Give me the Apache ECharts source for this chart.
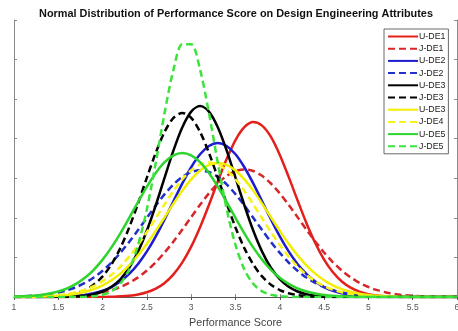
<!DOCTYPE html>
<html><head><meta charset="utf-8">
<script src="https://cdn.jsdelivr.net/npm/echarts@6/dist/echarts.min.js"></script>
<style>html,body{margin:0;padding:0;background:#fff}#c{width:458px;height:331px}</style>
</head><body><div id="c"></div>
<script>
// x positions (Performance Score), step 0.1 from 1.0 to 6.0
var xs = [];
for (var i = 0; i <= 50; i++) xs.push(+(1 + i * 0.1).toFixed(1));

var xTicks = [1, 1.5, 2, 2.5, 3, 3.5, 4, 4.5, 5, 5.5, 6];
var legendLabels = ['U-DE1','J-DE1','U-DE2','J-DE2','U-DE3','J-DE3','U-DE3','J-DE4','U-DE5','J-DE5'];

var uDE1 = [0,0,0,0,0,0,0,0,0,0,0,
 0.0015,0.0032,0.0065,0.0128,0.0238,0.0422,0.0712,0.1144,0.175,0.2546,
 0.3527,0.465,0.584,0.697,0.793,0.858,0.884,0.866,0.809,0.718,
 0.607,0.489,0.374,0.273,0.189,0.125,0.0786,0.047,0.0268,0.0145,
 0.0075,0.0037,0.0017,
 0,0,0,0,0,0,0];
var jDE1 = [0,0,0,0,0,0,
 0.0035,0.0059,0.0095,0.015,0.0231,0.0346,0.0504,0.0716,0.0991,0.1336,
 0.1756,0.2249,0.2806,0.341,0.4038,0.466,0.5238,0.5737,0.6123,0.6367,
 0.645,
 0.6367,0.6123,0.5737,0.5238,0.466,0.4038,0.341,0.2806,0.2249,0.1756,
 0.1336,0.0991,0.0716,0.0504,0.0346,0.0231,0.015,0.0095,0.0059,0.0035,
 0,0,0,0];
var uDE2 = [0,0,0,0,0,
 0.0016,0.0032,0.006,0.0108,0.0188,0.0314,0.0504,0.078,0.1164,0.167,
 0.2306,0.3067,0.3926,0.4838,0.5741,0.6557,0.7211,0.7634,
 0.778,
 0.7634,0.7211,0.6557,0.5741,0.4838,0.3926,0.3067,0.2306,
 0.167,0.1164,0.078,0.0504,0.0314,0.0188,0.0108,0.006,0.0032,0.0016,
 0,0,0,0,0,0,0,0,0];
var jDE2 = [0.0021,0.0035,0.0058,0.0095,0.0149,0.0229,0.0343,0.05,0.071,0.0984,
 0.1326,0.1743,0.2232,0.2784,0.3384,0.4006,0.4623,0.5197,0.5693,0.6076,
 0.6317,0.64,0.6317,
 0.6076,0.5693,0.5197,0.4623,0.4006,0.3384,0.2784,0.2232,0.1743,0.1326,
 0.0984,0.071,0.05,0.0343,0.0229,0.0149,0.0095,0.0058,0.0035,0.0021,0.0012,
 0,0,0,0,0,0,0];
var uDE3 = [0,0,0,0,0,0,0,
 0.0031,0.0068,0.0142,0.0278,0.0514,0.0897,0.1478,0.2295,0.3358,0.4637,0.6037,0.7412,0.8582,0.9371,
 0.965,
 0.9371,0.8582,0.7412,0.6037,0.4637,0.3358,0.2295,0.1478,0.0897,0.0514,0.0278,0.0142,0.0068,0.0031,
 0,0,0,0,0,0,0,0,0,0,0,0,0,0,0];
var jDE3 = [0,0,0,0,
 0.0021,0.0046,0.0096,0.019,0.0352,0.0622,0.1041,0.1648,0.2472,0.3514,0.473,0.6034,0.7291,0.8347,0.9052,
 0.93,
 0.9052,0.8347,0.7291,0.6034,0.473,0.3514,0.2472,0.1648,0.1041,0.0622,0.0352,0.019,0.0096,0.0046,0.0021,
 0,0,0,0,0,0,0,0,0,0,0,0,0,0,0,0];
var uDE3y = [0,0,0,
 0.0021,0.0037,0.0063,0.0105,0.0169,0.0264,0.0401,0.0592,0.085,0.1183,0.1602,0.2107,0.2691,0.3341,0.4029,0.4722,0.5376,0.5946,0.6391,0.6673,
 0.677,
 0.6673,0.6391,0.5946,0.5376,0.4722,0.4029,0.3341,0.2691,0.2107,0.1602,0.1183,0.085,0.0592,0.0401,0.0264,0.0169,0.0105,0.0063,0.0037,0.0021,
 0,0,0,0,0,0,0];
var jDE4 = [0,0,
 0.0018,0.0032,0.0055,0.0092,0.0152,0.024,0.0369,0.0551,0.08,0.1126,0.1538,0.204,0.2627,0.3283,0.3982,0.4689,0.5361,0.5949,0.6408,0.67,
 0.68,
 0.67,0.6408,0.5949,0.5361,0.4689,0.3982,0.3283,0.2627,0.204,0.1538,0.1126,0.08,0.0551,0.0369,0.024,0.0152,0.0092,0.0055,0.0032,0.0018,
 0,0,0,0,0,0,0,0];
var uDE5 = [0.0018,0.0033,0.0059,0.0103,0.0172,0.0278,0.0437,0.0662,0.0971,0.1377,0.189,0.2508,0.322,0.3997,0.4801,0.5577,0.6267,0.6811,0.716,
 0.728,
 0.716,0.6811,0.6267,0.5577,0.4801,0.3997,0.322,0.2508,0.189,0.1377,0.0971,0.0662,0.0437,0.0278,0.0172,0.0103,0.0059,0.0033,0.0018,
 0,0,0,0,0,0,0,0,0,0,0,0];
var jDE5 = [0,0,0,0,0,0,0,0,
 0.0012,0.0039,0.0111,0.0287,0.0668,0.1395,0.2627,0.445,0.6784,0.9308,1.1493,1.277,
 1.277,1.1493,0.9308,0.6784,0.445,0.2627,0.1395,0.0668,0.0287,0.0111,0.0039,0.0012,
 0,0,0,0,0,0,0,0,0,0,0,0,0,0,0,0,0,0,0];

var seriesDefs = [
  {name:'U-DE1', data:uDE1, color:'#e3201b', dash:false},
  {name:'J-DE1', data:jDE1, color:'#d8262a', dash:true},
  {name:'U-DE2', data:uDE2, color:'#1c1cd0', dash:false},
  {name:'J-DE2', data:jDE2, color:'#2030c8', dash:true},
  {name:'U-DE3', data:uDE3, color:'#000000', dash:false},
  {name:'J-DE3', data:jDE3, color:'#000000', dash:true},
  {name:'U-DE3 ', data:uDE3y, color:'#f2ee00', dash:false},
  {name:'J-DE4', data:jDE4, color:'#f6f21a', dash:true},
  {name:'U-DE5', data:uDE5, color:'#2cd42c', dash:false},
  {name:'J-DE5', data:jDE5, color:'#3ee23e', dash:true}
];

var series = seriesDefs.map(function(s){
  return {
    name: s.name, type:'line', smooth:0.3, showSymbol:false, symbol:'none',
    data: s.data.map(function(v,i){ return [xs[i], v]; }),
    lineStyle:{color:s.color, width:2.5, type: s.dash ? [7,4] : 'solid'},
    itemStyle:{color:s.color},
    clip:true, silent:true, animation:false
  };
});

var chart = echarts.init(document.getElementById('c'), null, {renderer:'canvas'});
var axisCol = '#8a8a8a';
var ff = 'Liberation Sans, Arial, sans-serif';
chart.setOption({
  animation:false,
  backgroundColor:'#ffffff',
  title:{
    text:'Normal Distribution of Performance Score on Design Engineering Attributes',
    left:231, top:3, textAlign:'center',
    textStyle:{fontFamily:ff, fontWeight:'bold', fontSize:10.9, color:'#111'}
  },
  legend:{
    orient:'vertical', left:384, top:29,
    itemWidth:30, itemHeight:8, itemGap:3.2,
    padding:[3,3,3,3],
    borderColor:'#444', borderWidth:0.8, backgroundColor:'#fff',
    itemStyle:{opacity:0, borderWidth:0},
    textStyle:{fontFamily:ff, fontSize:8.8, lineHeight:8, color:'#222', padding:[0,0,0,-4]},
    formatter:function(n){ return n.trim(); },
    data: seriesDefs.map(function(s){ return s.name; })
  },
  grid:{left:14, right:1, top:20, bottom:34, containLabel:false, outerBoundsMode:'none'},
  xAxis:[{
    type:'value', min:1, max:6, interval:0.5, position:'bottom',
    name:'Performance Score', nameLocation:'middle', nameGap:21,
    nameTextStyle:{fontFamily:ff, fontSize:10.8, color:'#444'},
    axisLine:{show:true, lineStyle:{color:axisCol, width:1}},
    axisTick:{show:true, inside:true, length:3, lineStyle:{color:axisCol}},
    axisLabel:{fontFamily:ff, fontSize:8.6, color:'#555', margin:6, showMaxLabel:true, showMinLabel:true, hideOverlap:false},
    splitLine:{show:false}
  },{
    type:'value', min:1, max:6, interval:0.5, position:'top',
    axisLine:{show:true, lineStyle:{color:'#555', width:1}},
    axisTick:{show:true, inside:true, length:3, lineStyle:{color:'#555'}},
    axisLabel:{show:false}, splitLine:{show:false}
  }],
  yAxis:[{
    type:'value', min:0, max:1.4, interval:0.2, position:'left',
    axisLine:{show:true, lineStyle:{color:axisCol, width:1}},
    axisTick:{show:true, inside:true, length:3, lineStyle:{color:axisCol}},
    axisLabel:{show:false}, splitLine:{show:false}
  },{
    type:'value', min:0, max:1.4, interval:0.2, position:'right',
    axisLine:{show:true, lineStyle:{color:axisCol, width:1}},
    axisTick:{show:true, inside:true, length:3, lineStyle:{color:axisCol}},
    axisLabel:{show:false}, splitLine:{show:false}
  }],
  series: series
});
</script>
</body></html>
